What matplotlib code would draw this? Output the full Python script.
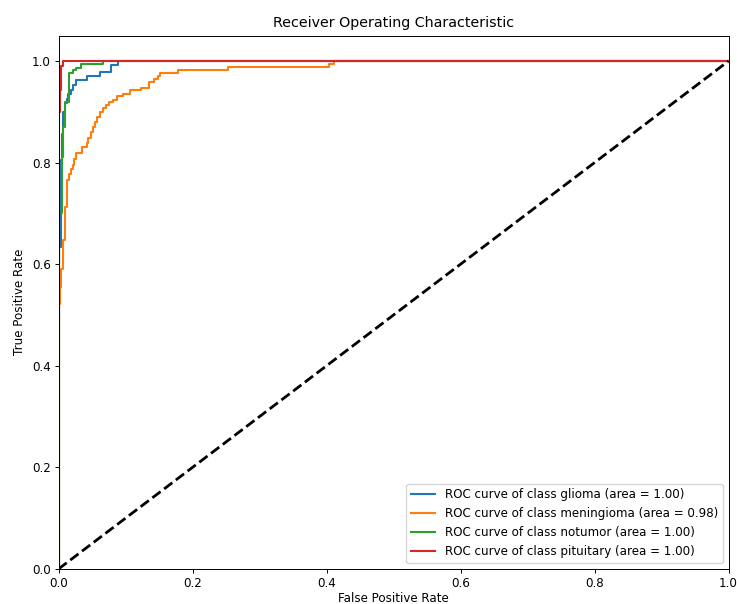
import matplotlib
matplotlib.use("Agg")
import matplotlib.pyplot as plt

classes = ["glioma", "meningioma", "notumor", "pituitary"]
areas = [1.00, 0.98, 1.00, 1.00]
colors = ["#1f77b4", "#ff7f0e", "#2ca02c", "#d62728"]

# ROC points (fpr, tpr level reached at that fpr), drawn as steps
fpr_glioma = [0, 0, 0.0037, 0.0057, 0.0072, 0.0097, 0.012, 0.0147, 0.0187, 0.022, 0.026,
              0.042, 0.062, 0.078, 0.0895, 1.0]
tpr_glioma = [0, 0.634, 0.805, 0.857, 0.900, 0.917, 0.926, 0.936, 0.943, 0.953, 0.963,
              0.970, 0.979, 0.992, 1.0, 1.0]

fpr_meningioma = [0, 0, 0.0025, 0.004, 0.007, 0.0097, 0.013, 0.016, 0.018, 0.021, 0.023, 0.026,
                  0.0347, 0.042, 0.0446, 0.048, 0.051, 0.0546, 0.058, 0.062, 0.066, 0.071,
                  0.076, 0.082, 0.087, 0.096, 0.107, 0.123, 0.135, 0.142, 0.148, 0.152,
                  0.179, 0.2525, 0.404, 0.411, 1.0]
tpr_meningioma = [0, 0.522, 0.555, 0.591, 0.647, 0.713, 0.765, 0.778, 0.788, 0.795, 0.808, 0.818,
                  0.831, 0.838, 0.849, 0.861, 0.870, 0.880, 0.890, 0.900, 0.907, 0.913,
                  0.920, 0.924, 0.931, 0.936, 0.943, 0.947, 0.959, 0.964, 0.971, 0.976,
                  0.982, 0.988, 0.994, 1.0, 1.0]

fpr_notumor = [0, 0, 0.005, 0.007, 0.0097, 0.0157, 0.021, 0.026, 0.034, 0.066, 1.0]
tpr_notumor = [0, 0.700, 0.811, 0.870, 0.920, 0.976, 0.983, 0.987, 0.995, 1.0, 1.0]

fpr_pituitary = [0, 0, 0.002, 0.004, 0.007, 1.0]
tpr_pituitary = [0, 0.90, 0.943, 0.990, 1.0, 1.0]

fprs = [fpr_glioma, fpr_meningioma, fpr_notumor, fpr_pituitary]
tprs = [tpr_glioma, tpr_meningioma, tpr_notumor, tpr_pituitary]

fig = plt.figure(figsize=(7.37, 6.04), dpi=100)
ax = fig.add_axes([0.0794, 0.0580, 0.9091, 0.8830])

for name, area, col, f, t in zip(classes, areas, colors, fprs, tprs):
    ax.plot(f, t, color=col, lw=1.5, drawstyle="steps-post",
            label=f"ROC curve of class {name} (area = {area:.2f})")

ax.plot([0, 1], [0, 1], "k--", lw=2)
ax.set_xlim(0.0, 1.0)
ax.set_ylim(0.0, 1.05)
ax.set_xlabel("False Positive Rate", fontsize=8.6, labelpad=2)
ax.set_ylabel("True Positive Rate", fontsize=8.6)
ax.set_title("Receiver Operating Characteristic", fontsize=10.3)
ax.tick_params(labelsize=8.6, length=3.0, width=0.7, pad=2.5)
for s in ax.spines.values():
    s.set_linewidth(0.7)
ax.legend(loc="lower right", fontsize=8.6)

fig.savefig("out.png", dpi=100)
